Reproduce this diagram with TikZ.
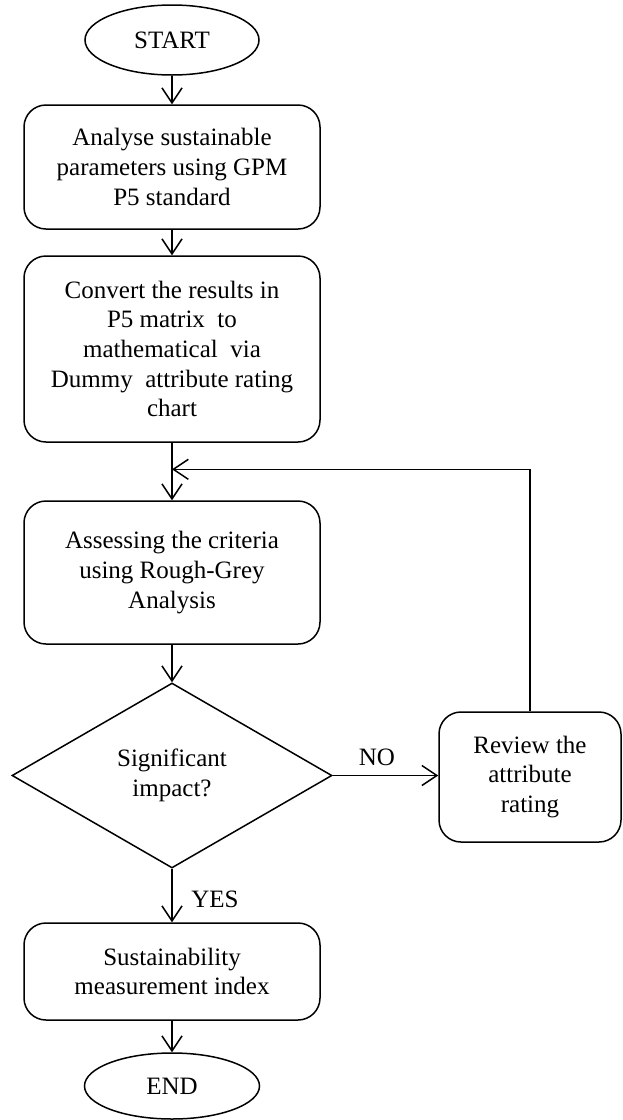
\documentclass[tikz,border=0pt]{standalone}
\usepackage{fontspec}
\setmainfont{Liberation Serif}
\usetikzlibrary{shapes.geometric,arrows.meta}
\tikzset{
  x=1pt, y=-1pt,
  txt/.style={font=\fontsize{25}{29.6}\selectfont, align=center},
  box/.style={txt, draw, line width=1.5pt, rounded corners=22pt, inner sep=0pt, minimum width=296pt},
  term/.style={txt, draw, ellipse, line width=1.5pt, inner sep=0pt},
  dec/.style={txt, draw, diamond, line width=1.5pt, inner sep=0pt, minimum width=320pt, minimum height=185pt},
  arr/.style={line width=1.5pt, -{Straight Barb[length=15pt,width=20pt]}},
  lbl/.style={txt, inner sep=0pt}
}
\begin{document}
\begin{tikzpicture}
\useasboundingbox (0,0) rectangle (622,1120);
\node[term, minimum width=174pt, minimum height=70pt] (start) at (172,40) {START};
\node[box, minimum height=124pt] (b1) at (172,167) {Analyse sustainable\\parameters using GPM\\P5 standard};
\node[box, minimum height=186pt] (b2) at (172,349) {Convert the results in\\P5 matrix\ \ to\\mathematical\ \ via\\Dummy\ \ attribute rating\\chart};
\node[box, minimum height=143pt] (b3) at (172,572.5) {Assessing the criteria\\using Rough-Grey\\Analysis};
\node[dec] (dec) at (172,775.5) {Significant\\impact?};
\node[box, minimum width=182pt, minimum height=130pt] (rev) at (530,777) {Review the\\attribute\\rating};
\node[box, minimum height=97pt] (b4) at (172,971.5) {Sustainability\\measurement index};
\node[term, minimum width=175pt, minimum height=66pt] (end) at (172,1086) {END};
\node[lbl] (no) at (377,757) {NO};
\node[lbl] (yes) at (215,899) {YES};
\coordinate (fb) at (530,469.3);
\draw[arr] (start) -- (b1);
\draw[arr] (b1) -- (b2);
\draw[arr] (b2) -- (b3);
\draw[arr] (b3) -- (dec);
\draw[arr] (dec.east) -- (rev.west |- dec.east);
\draw[arr] (rev.north) -- (fb) -- (fb -| b2.south);
\draw[arr] (dec.south) -- (b4.north);
\draw[arr] (b4) -- (end);
\end{tikzpicture}
\end{document}
